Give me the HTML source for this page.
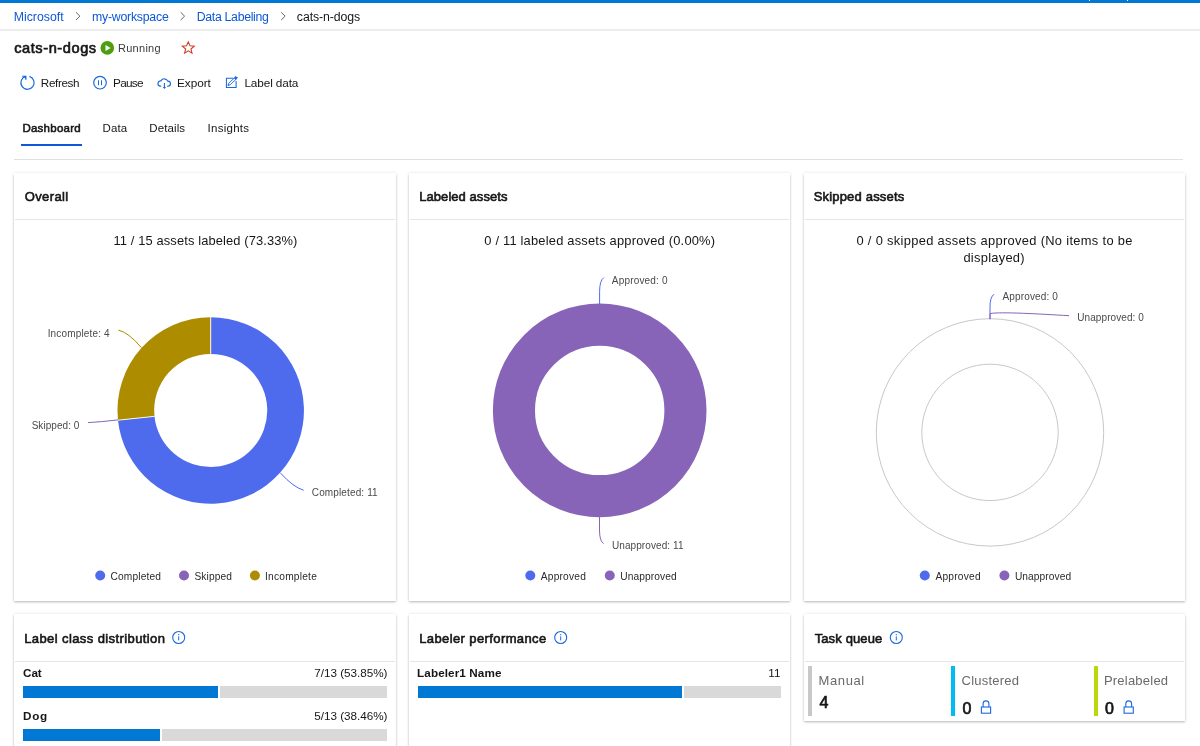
<!DOCTYPE html>
<html lang="en">
<head>
<meta charset="utf-8">
<title>cats-n-dogs - Data Labeling</title>
<style>
html,body{margin:0;padding:0;width:1200px;height:746px;overflow:hidden;background:#fff;}
.root{width:1200px;height:746px;overflow:hidden;background:#fff;position:relative;font-family:"Liberation Sans",sans-serif;color:#201f1e;}
.t{position:absolute;white-space:nowrap;line-height:20px;}
.abs{position:absolute;}
.topbar{left:0;top:0;width:1200px;height:2.5px;background:#0078d4;}
.hr{background:#e8e8e8;}
.card{position:absolute;background:#fff;box-shadow:0 1.5px 2.2px rgba(0,0,0,.2),0 .2px 2.6px rgba(0,0,0,.13);}
.card .hd{position:absolute;left:1px;right:1px;top:0;border-bottom:1.2px solid #e5e5e5;}
.bar{position:absolute;height:12.1px;background:#d9d9d9;}
.bar i{position:absolute;left:0;top:0;bottom:0;background:#0078d4;border-right:2px solid #fff;}
svg{position:absolute;left:0;top:0;overflow:visible;}
</style>
</head>
<body>
<div class="root">
<div class="abs topbar"></div>
<div class="abs" style="left:1088.6px;top:0;width:1.8px;height:1px;background:#fff;"></div>
<div class="abs" style="left:1126.6px;top:0;width:1.6px;height:1px;background:#fff;"></div>
<div class="abs hr" style="left:0;top:29px;width:1200px;height:2px;background:#ececec;"></div>
<div class="abs" style="left:21.3px;top:144.2px;width:60.7px;height:2px;background:#0f58d8;"></div>
<div class="abs hr" style="left:13.8px;top:158.9px;width:1169.7px;height:1.2px;background:#e0e0e0;"></div>

<!-- cards -->
<div class="card" style="left:14.1px;top:173px;width:381.5px;height:427.7px;"><div class="hd" style="height:46px;"></div></div>
<div class="card" style="left:409.05px;top:173px;width:381.4px;height:427.7px;"><div class="hd" style="height:46px;"></div></div>
<div class="card" style="left:803.8px;top:173px;width:381.4px;height:427.7px;"><div class="hd" style="height:46px;"></div></div>
<div class="card" style="left:14.1px;top:614px;width:381.5px;height:160px;"><div class="hd" style="height:47px;"></div></div>
<div class="card" style="left:409.05px;top:614px;width:381.4px;height:160px;"><div class="hd" style="height:47px;"></div></div>
<div class="card" style="left:803.8px;top:614px;width:381.4px;height:107px;"><div class="hd" style="height:47px;"></div></div>

<!-- bars -->
<div class="bar" style="left:23.1px;top:685.7px;width:363.7px;"><i style="width:194.6px;"></i></div>
<div class="bar" style="left:23.1px;top:728.8px;width:363.7px;"><i style="width:136.5px;"></i></div>
<div class="bar" style="left:417.7px;top:685.7px;width:363.4px;"><i style="width:264px;"></i></div>

<!-- task queue accent bars -->
<div class="abs" style="left:808.4px;top:666.2px;width:4px;height:49.8px;background:#c8c8c8;"></div>
<div class="abs" style="left:951.2px;top:666.2px;width:4.1px;height:49.8px;background:#00bcf2;"></div>
<div class="abs" style="left:1094px;top:666.2px;width:4.1px;height:49.8px;background:#bad80a;"></div>

<svg width="1200" height="746" viewBox="0 0 1200 746" fill="none">
<path d="M210.70 317.20A93.25 93.25 0 1 1 117.96 420.20L154.46 416.36A56.55 56.55 0 1 0 210.70 353.90Z" fill="#4f6bed"/>
<path d="M117.96 420.20A93.25 93.25 0 0 1 210.70 317.20L210.70 353.90A56.55 56.55 0 0 0 154.46 416.36Z" fill="#ae8c00"/>
<path d="M210.70 317.20L210.70 353.90" stroke="#fbf6e4" stroke-width="1"/>
<path d="M117.96 420.20L154.46 416.36" stroke="#fbf6e4" stroke-width="1"/>
<path d="M141.4 347.6Q128 332 118.4 330.2" stroke="#ae8c00" stroke-width="1"/>
<path d="M118 419.9Q100 422 88 422.6" stroke="#8764b8" stroke-width="1"/>
<path d="M280.3 472.8Q293.5 487.5 303.7 490.2" stroke="#4f6bed" stroke-width="1"/>
<circle cx="599.7" cy="410.4" r="85.75" stroke="#8764b8" stroke-width="42.099999999999994"/>
<path d="M599.6 304L599.6 291.5Q599.6 280.5 603.8 277.7" stroke="#4f6bed" stroke-width="1"/>
<path d="M599.5 517L599.5 530Q599.5 541 603.6 543.6" stroke="#8764b8" stroke-width="1"/>
<circle cx="990" cy="432.4" r="113.7" stroke="#c8c8c8" stroke-width="1"/>
<circle cx="990" cy="432.4" r="68.2" stroke="#c8c8c8" stroke-width="1"/>
<path d="M990 319.2L990 307Q990 297 994 294.2" stroke="#4f6bed" stroke-width="1"/>
<path d="M990 319.2L990 313.6C1000 311.6 1040 314 1069 315.7" stroke="#8764b8" stroke-width="1"/>
<circle cx="100.2" cy="575.5" r="5" fill="#4f6bed"/>
<circle cx="184" cy="575.5" r="5" fill="#8764b8"/>
<circle cx="254.9" cy="575.5" r="5" fill="#ae8c00"/>
<circle cx="530.3" cy="575.5" r="5" fill="#4f6bed"/>
<circle cx="609.8" cy="575.5" r="5" fill="#8764b8"/>
<circle cx="924.8" cy="575.5" r="5" fill="#4f6bed"/>
<circle cx="1004.4" cy="575.5" r="5" fill="#8764b8"/>
<path d="M76.0 12.3L79.9 16.15L76.0 20" stroke="#5f5b57" stroke-width="0.95"/>
<path d="M180.7 12.3L184.6 16.15L180.7 20" stroke="#5f5b57" stroke-width="0.95"/>
<path d="M281.2 12.3L285.1 16.15L281.2 20" stroke="#5f5b57" stroke-width="0.95"/>
<circle cx="107.3" cy="47.9" r="6.8" fill="#4f9e10"/>
<path d="M105.5 45L110.6 47.95L105.5 50.9Z" fill="#fff"/>
<polygon points="188.30,41.85 189.95,45.83 194.24,46.17 190.96,48.97 191.97,53.16 188.30,50.90 184.63,53.16 185.64,48.97 182.36,46.17 186.65,45.83" stroke="#cc4125" stroke-width="1.1" stroke-linejoin="miter"/>
<path d="M29.43 76.39A6.6 6.6 0 1 1 25.79 76.32" stroke="#1a69dc" stroke-width="1.2"/>
<path d="M22.2 76.25H25.85V79.7" stroke="#1a69dc" stroke-width="1.2"/><path d="M23.2 76.25H25.85V78.9Z" fill="#1a69dc"/>
<circle cx="100" cy="82.7" r="6.3" stroke="#1a69dc" stroke-width="1.2"/>
<path d="M98.5 80.3V85.2M101.5 80.3V85.2" stroke="#1a69dc" stroke-width="1"/>
<path d="M161.2 86.15H159.95A2.65 2.65 0 0 1 160.9 80.95A3.75 3.75 0 0 1 167.75 81.1A2.55 2.55 0 0 1 168 86.25H167" stroke="#1a69dc" stroke-width="1.15"/>
<path d="M164.4 82.9V87.4" stroke="#1a69dc" stroke-width="1.1"/><path d="M162.7 86.9H166.1L164.4 89.1Z" fill="#1a69dc"/>
<path d="M233.6 78.2H226.4V87.4H236.1V81" stroke="#1a69dc" stroke-width="1.05"/>
<path d="M235.9 76.6L237.3 78L230.3 84.7L227.9 85.5L228.7 83.3Z" fill="#fff" stroke="#1a69dc" stroke-width="0.9" stroke-linejoin="round"/>
<path d="M235.9 76.6L237.3 78L235.6 79.6L234.2 78.2Z" fill="#1a69dc" stroke="#1a69dc" stroke-width="0.6"/>
<path d="M227.9 85.5L228.5 83.9L229.6 85Z" fill="#1a69dc"/>
<circle cx="178.7" cy="637.5" r="6" stroke="#1a69dc" stroke-width="1.1"/>
<path d="M178.7 636.4V640.4" stroke="#1a69dc" stroke-width="1"/><circle cx="178.7" cy="634.7" r="0.65" fill="#1a69dc"/>
<circle cx="560.7" cy="637.5" r="6" stroke="#1a69dc" stroke-width="1.1"/>
<path d="M560.7 636.4V640.4" stroke="#1a69dc" stroke-width="1"/><circle cx="560.7" cy="634.7" r="0.65" fill="#1a69dc"/>
<circle cx="896.3" cy="637.5" r="6" stroke="#1a69dc" stroke-width="1.1"/>
<path d="M896.3 636.4V640.4" stroke="#1a69dc" stroke-width="1"/><circle cx="896.3" cy="634.7" r="0.65" fill="#1a69dc"/>
<rect x="981.4" y="707" width="9.2" height="6.2" stroke="#1a69dc" stroke-width="1.1"/>
<path d="M983.1 707V703.8A2.9 2.9 0 0 1 988.9 703.8V707" stroke="#1a69dc" stroke-width="1.1"/>
<rect x="1124.1" y="707" width="9.2" height="6.2" stroke="#1a69dc" stroke-width="1.1"/>
<path d="M1125.8 707V703.8A2.9 2.9 0 0 1 1131.6 703.8V707" stroke="#1a69dc" stroke-width="1.1"/>
</svg>

<span class="t" style="left:13.68px;top:7.04px;font-size:12.3px;color:#0c58d6;letter-spacing:0.018px;">Microsoft</span>
<span class="t" style="left:92.05px;top:7.04px;font-size:12.3px;color:#0c58d6;letter-spacing:-0.235px;">my-workspace</span>
<span class="t" style="left:196.78px;top:7.04px;font-size:12.3px;color:#0c58d6;letter-spacing:-0.315px;">Data Labeling</span>
<span class="t" style="left:296.85px;top:7.04px;font-size:12.3px;color:#161616;letter-spacing:-0.095px;">cats-n-dogs</span>
<span class="t" style="left:14.15px;top:38.24px;font-size:14.6px;color:#161616;-webkit-text-stroke:0.65px currentColor;letter-spacing:0.578px;">cats-n-dogs</span>
<span class="t" style="left:117.99px;top:38.49px;font-size:11px;color:#3b3a39;letter-spacing:0.279px;">Running</span>
<span class="t" style="left:40.85px;top:73.25px;font-size:11.7px;color:#161616;letter-spacing:-0.364px;">Refresh</span>
<span class="t" style="left:113.08px;top:73.21px;font-size:11.8px;color:#161616;letter-spacing:-0.739px;">Pause</span>
<span class="t" style="left:177.03px;top:73.21px;font-size:11.8px;color:#161616;letter-spacing:-0.044px;">Export</span>
<span class="t" style="left:244.43px;top:73.21px;font-size:11.8px;color:#161616;letter-spacing:-0.129px;">Label data</span>
<span class="t" style="left:22.38px;top:118.32px;font-size:11.5px;color:#161616;-webkit-text-stroke:0.55px currentColor;letter-spacing:0.262px;">Dashboard</span>
<span class="t" style="left:102.56px;top:118.32px;font-size:11.5px;color:#161616;letter-spacing:0.120px;">Data</span>
<span class="t" style="left:149.36px;top:118.32px;font-size:11.5px;color:#161616;letter-spacing:0.101px;">Details</span>
<span class="t" style="left:207.62px;top:118.32px;font-size:11.5px;color:#161616;letter-spacing:0.261px;">Insights</span>
<span class="t" style="left:24.73px;top:186.80px;font-size:13px;color:#161616;-webkit-text-stroke:0.6px currentColor;letter-spacing:0.384px;">Overall</span>
<span class="t" style="left:419.24px;top:186.80px;font-size:13px;color:#161616;-webkit-text-stroke:0.6px currentColor;letter-spacing:0.057px;">Labeled assets</span>
<span class="t" style="left:813.64px;top:186.80px;font-size:13px;color:#161616;-webkit-text-stroke:0.6px currentColor;letter-spacing:0.189px;">Skipped assets</span>
<span class="t" style="left:113.50px;top:230.83px;font-size:12.9px;color:#161616;letter-spacing:0.118px;">11 / 15 assets labeled (73.33%)</span>
<span class="t" style="left:484.27px;top:230.83px;font-size:12.9px;color:#161616;letter-spacing:0.202px;">0 / 11 labeled assets approved (0.00%)</span>
<span class="t" style="left:856.47px;top:230.83px;font-size:12.9px;color:#161616;letter-spacing:0.311px;">0 / 0 skipped assets approved (No items to be</span>
<span class="t" style="left:963.42px;top:247.83px;font-size:12.9px;color:#161616;letter-spacing:0.271px;">displayed)</span>
<span class="t" style="left:47.68px;top:323.84px;font-size:10px;color:#4a4a4a;letter-spacing:0.156px;">Incomplete: 4</span>
<span class="t" style="left:31.64px;top:415.84px;font-size:10px;color:#4a4a4a;letter-spacing:0.056px;">Skipped: 0</span>
<span class="t" style="left:311.84px;top:482.84px;font-size:10px;color:#4a4a4a;letter-spacing:0.129px;">Completed: 11</span>
<span class="t" style="left:611.79px;top:270.84px;font-size:10px;color:#4a4a4a;letter-spacing:0.184px;">Approved: 0</span>
<span class="t" style="left:611.94px;top:535.83px;font-size:10px;color:#4a4a4a;letter-spacing:0.089px;">Unapproved: 11</span>
<span class="t" style="left:1002.49px;top:286.84px;font-size:10px;color:#4a4a4a;letter-spacing:0.144px;">Approved: 0</span>
<span class="t" style="left:1077.24px;top:307.84px;font-size:10px;color:#4a4a4a;letter-spacing:0.087px;">Unapproved: 0</span>
<span class="t" style="left:110.44px;top:566.77px;font-size:10.2px;color:#2b2b2b;letter-spacing:0.160px;">Completed</span>
<span class="t" style="left:194.42px;top:566.77px;font-size:10.2px;color:#2b2b2b;letter-spacing:0.123px;">Skipped</span>
<span class="t" style="left:265.06px;top:566.77px;font-size:10.2px;color:#2b2b2b;letter-spacing:0.213px;">Incomplete</span>
<span class="t" style="left:540.78px;top:566.77px;font-size:10.2px;color:#2b2b2b;letter-spacing:0.205px;">Approved</span>
<span class="t" style="left:620.22px;top:566.77px;font-size:10.2px;color:#2b2b2b;letter-spacing:0.118px;">Unapproved</span>
<span class="t" style="left:935.48px;top:566.77px;font-size:10.2px;color:#2b2b2b;letter-spacing:0.219px;">Approved</span>
<span class="t" style="left:1014.92px;top:566.77px;font-size:10.2px;color:#2b2b2b;letter-spacing:0.073px;">Unapproved</span>
<span class="t" style="left:24.24px;top:628.80px;font-size:13px;color:#161616;-webkit-text-stroke:0.6px currentColor;letter-spacing:0.400px;">Label class distribution</span>
<span class="t" style="left:419.24px;top:628.80px;font-size:13px;color:#161616;-webkit-text-stroke:0.6px currentColor;letter-spacing:0.390px;">Labeler performance</span>
<span class="t" style="left:814.63px;top:628.80px;font-size:13px;color:#161616;-webkit-text-stroke:0.6px currentColor;letter-spacing:0.135px;">Task queue</span>
<span class="t" style="left:23.09px;top:663.25px;font-size:11.7px;color:#161616;font-weight:700;letter-spacing:-0.078px;">Cat</span>
<span class="t" style="left:314.30px;top:663.25px;font-size:11.7px;color:#161616;letter-spacing:-0.018px;">7/13 (53.85%)</span>
<span class="t" style="left:23.12px;top:706.25px;font-size:11.7px;color:#161616;font-weight:700;letter-spacing:0.634px;">Dog</span>
<span class="t" style="left:314.30px;top:706.25px;font-size:11.7px;color:#161616;letter-spacing:-0.018px;">5/13 (38.46%)</span>
<span class="t" style="left:417.12px;top:663.25px;font-size:11.7px;color:#161616;font-weight:700;letter-spacing:0.095px;">Labeler1 Name</span>
<span class="t" style="left:768.23px;top:663.25px;font-size:11.7px;color:#161616;letter-spacing:0.073px;">11</span>
<span class="t" style="left:818.62px;top:670.80px;font-size:13px;color:#6a6a6a;letter-spacing:0.587px;">Manual</span>
<span class="t" style="left:819.60px;top:692.76px;font-size:16px;color:#161616;-webkit-text-stroke:0.7px currentColor;">4</span>
<span class="t" style="left:961.60px;top:670.80px;font-size:13px;color:#6a6a6a;letter-spacing:0.207px;">Clustered</span>
<span class="t" style="left:962.38px;top:698.76px;font-size:16px;color:#161616;-webkit-text-stroke:0.7px currentColor;">0</span>
<span class="t" style="left:1103.92px;top:670.80px;font-size:13px;color:#6a6a6a;letter-spacing:0.224px;">Prelabeled</span>
<span class="t" style="left:1105.08px;top:698.76px;font-size:16px;color:#161616;-webkit-text-stroke:0.7px currentColor;">0</span>
</div>
</body>
</html>
